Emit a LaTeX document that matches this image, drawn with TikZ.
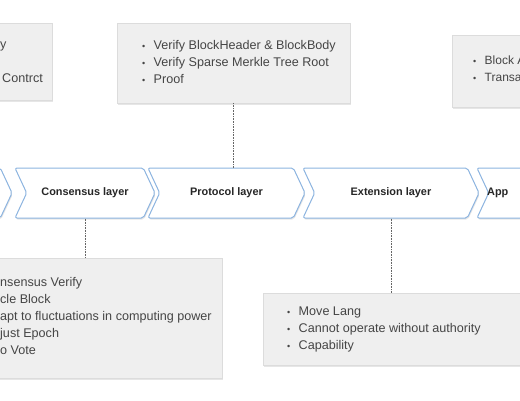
\documentclass[tikz,border=0pt]{standalone}
\usepackage{fontspec}
\setmainfont{Liberation Sans}
\usetikzlibrary{shapes.symbols,shadows}
\definecolor{boxfill}{HTML}{EFEFEF}
\definecolor{boxline}{HTML}{DCDCDC}
\definecolor{layerline}{HTML}{8CB4E0}
\definecolor{listtext}{HTML}{454545}
\newcommand{\itm}{\makebox[11.5pt][l]{\small\textbullet}}

\begin{document}
\begin{tikzpicture}[x=1pt, y=-1pt,
  layer/.style={signal, signal to=east, signal from=west, signal pointer angle=130, draw=layerline, line width=1pt, fill=white, rounded corners=2pt, minimum height=50pt, inner sep=0pt, font=\fontsize{10.9}{12}\selectfont\bfseries, text=black!85, drop shadow={opacity=0.2, shadow xshift=0.8pt, shadow yshift=-1.5pt}},
  infobox/.style={rectangle, draw=boxline, fill=boxfill, inner sep=0pt, drop shadow={opacity=0.2, shadow xshift=0.8pt, shadow yshift=-1.5pt}},
  itemlist/.style={align=left, inner sep=0pt, text=listtext, font=\fontsize{12.6}{17}\selectfont},
  link/.style={densely dotted, draw=black!60, line width=0.6pt}]

  \useasboundingbox (0,0) rectangle (520,400);

  % note boxes
  \node[infobox, minimum width=132pt, minimum height=77pt] (chainbox) at (-14,61.5) {};
  \node[infobox, minimum width=233pt, minimum height=80pt] (protobox) at (233.5,63) {};
  \node[infobox, minimum width=148pt, minimum height=72pt] (appbox) at (526,71) {};
  \node[infobox, minimum width=302pt, minimum height=120pt] (consbox) at (71,318) {};
  \node[infobox, minimum width=337pt, minimum height=72pt] (extbox) at (431.5,329) {};

  % layers
  \node[layer, minimum width=142pt] (base) at (-59,193) {};
  \node[layer, minimum width=140pt] (consensus) at (85,193) {Consensus layer};
  \node[layer, minimum width=157pt] (protocol) at (226.5,193) {Protocol layer};
  \node[layer, minimum width=176pt] (extension) at (391,193) {Extension layer};
  \node[layer, minimum width=150pt] (application) at (552,193) {};
  \node[anchor=west, inner sep=0pt, font=\fontsize{10.9}{12}\selectfont\bfseries, text=black!85] (applabel) at (487,193) {App};

  % lists (base = last line)
  \node[itemlist, anchor=base west] (chainA) at (0,48) {y};
  \node[itemlist, anchor=base west] (chainB) at (2,82) {Contrct};
  \node[itemlist, anchor=base west] (protolist) at (142,83) {\itm Verify BlockHeader \& BlockBody\\ \itm Verify Sparse Merkle Tree Root\\ \itm Proof};
  \node[itemlist, anchor=base west, font=\fontsize{12}{17}\selectfont] (applist) at (473,81) {\itm Block A\\ \itm Transa};
  \node[itemlist, anchor=base west] (conslist) at (0,354) {nsensus Verify\\ cle Block\\ apt to fluctuations in computing power\\ just Epoch\\ o Vote};
  \node[itemlist, anchor=base west] (extlist) at (287,349) {\itm Move Lang\\ \itm Cannot operate without authority\\ \itm Capability};

  % links
  \draw[link] (protobox.south) -- (protobox.south |- protocol.north);
  \draw[link] (consensus.south) -- (consensus.south |- consbox.north);
  \draw[link] (extension.south) -- (extension.south |- extbox.north);
\end{tikzpicture}
\end{document}
